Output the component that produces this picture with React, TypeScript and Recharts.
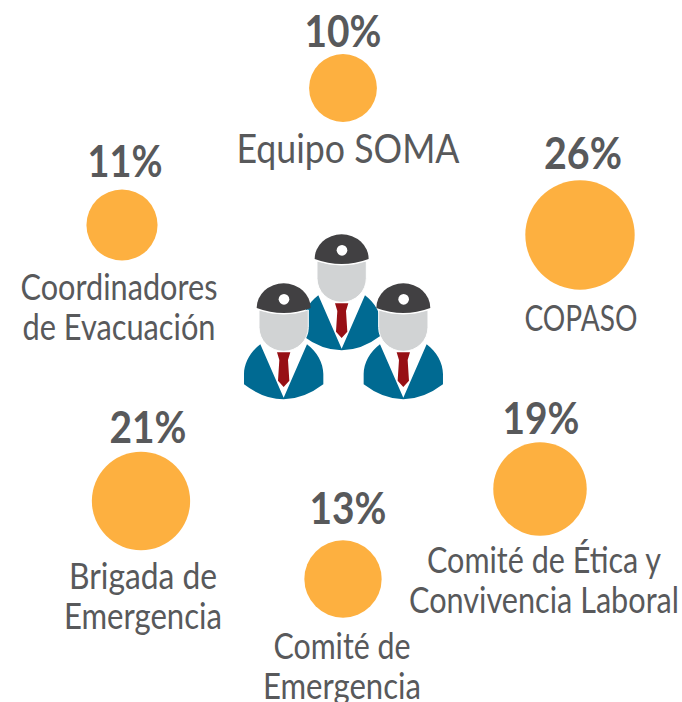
import { Customized, LabelList, Scatter, ScatterChart, XAxis, YAxis, ZAxis } from "recharts"

const names = ["Equipo SOMA", "COPASO", "Coordinadores de Evacuación", "Comité de Ética y Convivencia Laboral", "Brigada de Emergencia", "Comité de Emergencia"]
const shares = [10, 26, 11, 19, 21, 13]
const xValues = [343, 580, 122, 540, 141, 343]
const yValues = [88, 235, 225, 489, 501, 579]
const nameLines = [
  ["Equipo SOMA"],
  ["COPASO"],
  ["Coordinadores", "de Evacuación"],
  ["Comité de Ética y", "Convivencia Laboral"],
  ["Brigada de", "Emergencia"],
  ["Comité de", "Emergencia"],
]

const data = names.map((name, i) => ({ name, share: shares[i], x: xValues[i], y: yValues[i] }))

// text offsets from each bubble centre: [pct dx, pct dy, name dx, name dy]
const labelOffsets = [
  [0, -41, 5, 75],
  [3, -66, 1, 96],
  [3, -48, -3, 75],
  [1, -55, 4, 84],
  [7, -58, 2, 88],
  [5, -55, -1, 80],
]
// no condensed font is installed, so the lines get squeezed to the measured widths
const pctWidths = [77, 78, 75, 77, 77, 77]
const lineWidths = [[223], [113], [197, 193], [234, 270], [148, 158], [137, 158]]

const FONT = "Lato, 'Noto Sans', sans-serif"
const TEXT = "#58595b"

function BubbleLabel(props: any) {
  const { x, y, width, height, index } = props
  const cx = x + width / 2
  const cy = y + height / 2
  const [pdx, pdy, ndx, ndy] = labelOffsets[index]
  const big = index === 0
  return (
    <g fontFamily={FONT} fill={TEXT} textAnchor="middle">
      <text x={cx + pdx} y={cy + pdy} fontSize={43} fontWeight={700} textLength={pctWidths[index]} lengthAdjust="spacingAndGlyphs">
        {`${shares[index]}%`}
      </text>
      {nameLines[index].map((line, i) => (
        <text
          key={line}
          x={cx + ndx}
          y={cy + ndy + i * 39.5}
          fontSize={big ? 41 : 36}
          textLength={lineWidths[index][i]}
          lengthAdjust="spacingAndGlyphs"
        >
          {line}
        </text>
      ))}
    </g>
  )
}

function Person({ cx, top }: { cx: number; top: number }) {
  return (
    <g transform={`translate(${cx} ${top})`}>
      <path d="M-70 183 L0 345 L70 183 Z" fill="#fff" />
      <path d="M-70 183 C-100 205 -119 240 -119 272 L-119 303 Q-60 348 0 348 Q60 348 119 303 L119 272 C119 240 100 205 70 183 L0 343 Z" fill="#006a92" />
      <path d="M-74 80 Q0 104 74 80 L74 132 A74 72 0 0 1 -74 132 Z" fill="#d1d3d4" stroke="#fff" strokeWidth={3} />
      <path d="M-81 74 A81 74 0 0 1 81 74 Q0 104 -81 74 Z" fill="#414042" />
      <circle cx={1} cy={48} r={16} fill="#fff" />
      <path d="M-20 207 L20 207 L13 230 L17 292 L0 311 L-17 292 L-13 230 Z" fill="#971015" />
    </g>
  )
}

function PeopleIcon() {
  return (
    <g transform="translate(235 225) scale(0.3333)">
      <Person cx={320} top={28} />
      <Person cx={146} top={175} />
      <Person cx={505} top={175} />
    </g>
  )
}

export default function App() {
  return (
    <div style={{ position: "absolute", left: 0, top: 0 }}>
      <ScatterChart width={682} height={702} margin={{ top: 0, right: 0, bottom: 0, left: 0 }}>
        <XAxis type="number" dataKey="x" domain={[0, 682]} hide />
        <YAxis type="number" dataKey="y" domain={[0, 702]} reversed hide />
        <ZAxis type="number" dataKey="share" domain={[0, 26]} range={[0, 9393]} />
        <Customized component={PeopleIcon} />
        <Scatter data={data} fill="#fdb040" isAnimationActive={false}>
          <LabelList dataKey="name" content={BubbleLabel} />
        </Scatter>
      </ScatterChart>
    </div>
  )
}
